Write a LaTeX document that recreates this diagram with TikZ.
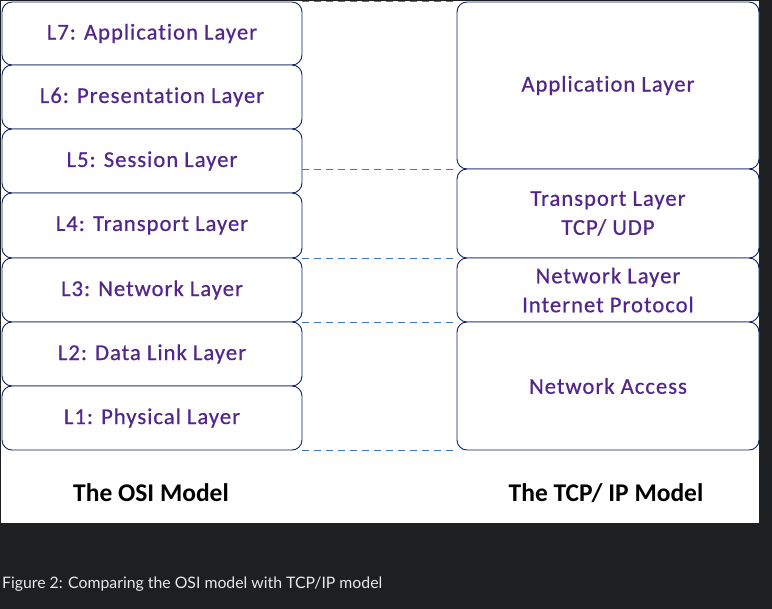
\documentclass[tikz,border=0pt]{standalone}
\usepackage{fontspec}
\setmainfont{Carlito}
\newfontfamily\boxfont{Carlito}[LetterSpace=4.5, FakeBold=0.6, Ligatures=NoCommon]
\newfontfamily\titlefont{Carlito}[Ligatures=NoCommon]
\newfontfamily\capfont{Lato}
\definecolor{boxline}{HTML}{0B2463}
\definecolor{txtpurple}{HTML}{52268A}
\definecolor{dashblue}{HTML}{3C72D0}
\definecolor{darkbg}{HTML}{1E1F21}
\definecolor{captxt}{HTML}{E8E8E8}
\begin{document}
\begin{tikzpicture}[x=1pt,y=-1pt,
  layerbox/.style={draw=boxline, fill=white, rounded corners=10pt, line width=0.9pt,
    font=\boxfont\fontsize{22.6}{29}\selectfont, text=txtpurple, align=center, inner sep=0pt},
  osibox/.style={layerbox, minimum width=300pt},
  tcpbox/.style={layerbox, minimum width=302pt},
  dashlink/.style={draw=dashblue, line width=0.9pt, dash pattern=on 7pt off 5pt},
  modeltitle/.style={font=\titlefont\bfseries\fontsize{25.5}{28}\selectfont, text=black},
  captext/.style={font=\capfont\fontsize{15.8}{18}\selectfont, text=captxt, anchor=west, inner sep=0pt}
]
\useasboundingbox (0,0) rectangle (772,609);
\fill[darkbg] (0,0) rectangle (772,609);
\fill[white] (1,1) rectangle (759,523);

% OSI boxes
\node[osibox, minimum height=63pt] (o7) at (152,33.5) {L7: Application\ Layer};
\node[osibox, minimum height=64pt] (o6) at (152,97) {L6: Presentation Layer};
\node[osibox, minimum height=64pt] (o5) at (152,161) {L5: Session Layer};
\node[osibox, minimum height=65pt] (o4) at (152,225.5) {L4: Transport Layer};
\node[osibox, minimum height=64pt] (o3) at (152,290) {L3: Network Layer};
\node[osibox, minimum height=64pt] (o2) at (152,354) {L2: Data Link Layer};
\node[osibox, minimum height=64pt] (o1) at (152,418) {L1: Physical Layer};

% TCP/IP boxes
\node[tcpbox, minimum height=167pt] (tapp) at (608,85.5) {Application\ Layer};
\node[tcpbox, minimum height=89pt] (ttrans) at (608,213.5) {Transport Layer\\TCP/ UDP};
\node[tcpbox, minimum height=64pt] (tnet) at (608,290) {Network Layer\\Internet Protocol};
\node[tcpbox, minimum height=128pt] (tacc) at (608,386) {Network Access};

% dashed correspondence lines
\draw[dashlink] (o7.north east) -- (tapp.north west);
\draw[dashlink] (tapp.south west -| o5.east) -- (tapp.south west);
\draw[dashlink] (o4.south east) -- (ttrans.south west);
\draw[dashlink] (o3.south east) -- (tnet.south west);
\draw[dashlink] (o1.south east) -- (tacc.south west);

% titles
\node[modeltitle] (osititle) at (151,493) {The OSI Model};
\node[modeltitle] (tcptitle) at (606,493) {The TCP/ IP Model};

% caption
\node[captext] (caption) at (2,584) {Figure 2: Comparing the OSI model with TCP/IP model};
\end{tikzpicture}
\end{document}
